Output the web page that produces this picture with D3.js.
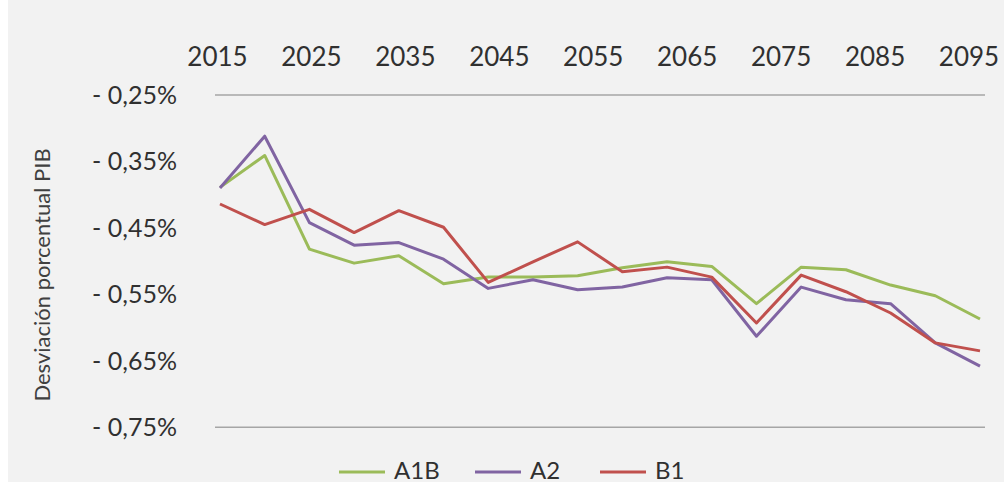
<!DOCTYPE html>
<html>
<head>
<meta charset="utf-8">
<script src="https://cdn.jsdelivr.net/npm/d3@7"></script>
<style>
  body { margin: 0; background: #ffffff; }
  text { font-family: Lato, "Open Sans", sans-serif; fill: #303030; }
</style>
</head>
<body>
<div id="chart"></div>
<script>
// data: desviación porcentual del PIB, every 5 years
let years = [2015, 2020, 2025, 2030, 2035, 2040, 2045, 2050, 2055, 2060, 2065, 2070, 2075, 2080, 2085, 2090, 2095, 2100];
let a1b = [-0.389, -0.341, -0.482, -0.503, -0.492, -0.534, -0.524, -0.524, -0.522, -0.510, -0.501, -0.508, -0.564, -0.509, -0.513, -0.536, -0.552, -0.587];
let a2  = [-0.390, -0.312, -0.442, -0.476, -0.472, -0.497, -0.541, -0.528, -0.543, -0.539, -0.525, -0.528, -0.613, -0.539, -0.558, -0.564, -0.623, -0.658];
let b1  = [-0.414, -0.445, -0.422, -0.457, -0.424, -0.449, -0.532, -0.501, -0.471, -0.516, -0.509, -0.524, -0.593, -0.521, -0.546, -0.578, -0.623, -0.635];

let xLabels = ["2015", "2025", "2035", "2045", "2055", "2065", "2075", "2085", "2095"];
let yTicks = [-0.25, -0.35, -0.45, -0.55, -0.65, -0.75];

let series = [
  {name: "A1B", values: a1b, color: "#9bbb59"},
  {name: "A2", values: a2, color: "#8064a2"},
  {name: "B1", values: b1, color: "#c0504d"}
];

let width = 1004, height = 483;

let svg = d3.select("#chart")
    .append("svg")
    .attr("width", width)
    .attr("height", height);

// panel background
svg.append("rect")
    .attr("x", 8).attr("y", 0)
    .attr("width", width - 8).attr("height", height - 1)
    .attr("fill", "#f2f2f2");

// scales
let x = d3.scaleLinear()
    .domain([2015, 2100])
    .range([220, 980]);

let xLab = d3.scalePoint()
    .domain(xLabels)
    .range([217.5, 969]);

let y = d3.scaleLinear()
    .domain([-0.25, -0.75])
    .range([95, 427.3]);

// top axis line and bottom gridline
svg.append("g")
    .selectAll("line")
    .data([-0.25, -0.75])
    .enter()
    .append("line")
    .attr("x1", 215)
    .attr("x2", 985)
    .attr("y1", d => y(d))
    .attr("y2", d => y(d))
    .attr("stroke", "#a6a6a6")
    .attr("stroke-width", 1.5);

// x labels (top)
svg.append("g")
    .selectAll("text")
    .data(xLabels)
    .enter()
    .append("text")
    .attr("x", d => xLab(d))
    .attr("y", 66)
    .style("text-anchor", "middle")
    .style("font-size", "26px")
    .text(d => d);

// y labels
let fmt = d => "- " + d3.format(".2f")(-d).replace(".", ",") + "%";
svg.append("g")
    .selectAll("text")
    .data(yTicks)
    .enter()
    .append("text")
    .attr("x", 177)
    .attr("y", d => y(d) + 9)
    .style("text-anchor", "end")
    .style("font-size", "25px")
    .text(fmt);

// y axis title
svg.append("text")
    .attr("transform", "translate(50, 275) rotate(-90)")
    .style("text-anchor", "middle")
    .style("font-size", "22px")
    .style("fill", "#404040")
    .text("Desviación porcentual PIB");

// lines
let line = d3.line()
    .x((d, i) => x(years[i]))
    .y(d => y(d));

svg.append("g")
    .selectAll("path")
    .data(series)
    .enter()
    .append("path")
    .attr("d", d => line(d.values))
    .attr("fill", "none")
    .attr("stroke", d => d.color)
    .attr("stroke-width", 3)
    .attr("stroke-linejoin", "round");

// legend
let legX = [339, 475, 600];
let legend = svg.append("g")
    .selectAll("g")
    .data(series)
    .enter()
    .append("g")
    .attr("transform", (d, i) => `translate(${legX[i]}, 472)`);

legend.append("line")
    .attr("x1", 0).attr("x2", 46)
    .attr("stroke", d => d.color)
    .attr("stroke-width", 3);

legend.append("text")
    .attr("x", 55)
    .attr("y", 7)
    .style("font-size", "24px")
    .text(d => d.name);
</script>
</body>
</html>
